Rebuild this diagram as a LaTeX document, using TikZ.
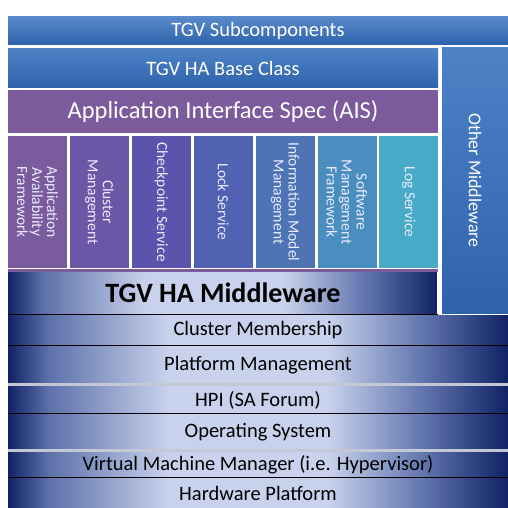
\documentclass[tikz,border=0pt]{standalone}
\usepackage{fontspec}
\setmainfont{Carlito}
\definecolor{tgvblue}{RGB}{58,116,192}
\definecolor{tgvbluedk}{RGB}{46,98,172}
\definecolor{aispurple}{RGB}{124,91,156}
\definecolor{svA}{RGB}{122,92,158}
\definecolor{svB}{RGB}{106,88,166}
\definecolor{svC}{RGB}{92,84,172}
\definecolor{svD}{RGB}{81,98,179}
\definecolor{svE}{RGB}{78,116,182}
\definecolor{svF}{RGB}{74,142,191}
\definecolor{svG}{RGB}{71,170,198}
\definecolor{navy}{RGB}{16,34,100}
\definecolor{midblue}{RGB}{92,112,170}
\definecolor{pale}{RGB}{200,210,236}
\definecolor{sepgray}{RGB}{196,200,212}
\usetikzlibrary{calc}
\pgfdeclarehorizontalshading{layershade}{100bp}{color(0bp)=(navy); color(25bp)=(navy);
  color(29bp)=(midblue); color(41bp)=(pale); color(57bp)=(pale); color(67bp)=(midblue);
  color(75bp)=(navy); color(100bp)=(navy)}

\begin{document}
\begin{tikzpicture}[x=1pt,y=-1pt]
	\tikzstyle{blk}=[inner sep=0pt,text=white,font=\fontsize{20.5}{22}\selectfont];
	\tikzstyle{svc}=[blk,rotate=-90,align=center,minimum width=132pt,minimum height=59pt,
	                 text=white!92!blue,font=\fontsize{15.5}{15}\selectfont];
	\tikzstyle{lay}=[inner sep=0pt,shading=layershade,font=\fontsize{20.5}{22}\selectfont];
	\tikzstyle{rule}=[line width=0.6pt,black];
	\tikzstyle{gap}=[line width=2.6pt,sepgray];
	\useasboundingbox (0,0) rectangle (508,508);
	% top blocks
	\node[blk,top color=tgvblue!85!white,bottom color=tgvbluedk,minimum width=500pt,minimum height=28pt] (sub) at (258,31) {TGV Subcomponents};
	\node[blk,top color=tgvblue!90!white,bottom color=tgvbluedk,minimum width=430pt,minimum height=39pt] (base) at (223,68) {TGV HA Base Class};
	\node[blk,top color=tgvblue!90!white,bottom color=tgvbluedk,rotate=-90,minimum width=265pt,minimum height=66pt,
	      font=\fontsize{18}{20}\selectfont] (other) at (475,180.5) {Other Middleware};
	\node[blk,fill=aispurple,minimum width=430pt,minimum height=43pt,font=\fontsize{24.5}{26}\selectfont] (ais) at (223,111.5) {Application Interface Spec (AIS)};
	% AIS services
	\node[svc,fill=svA] (aaf)  at (37.5,202)  {Application\\Availability\\Framework};
	\node[svc,fill=svB] (clm)  at (99.4,202)  {Cluster\\Management};
	\node[svc,fill=svC] (ckpt) at (161.3,202) {Checkpoint Service};
	\node[svc,fill=svD] (lck)  at (223.2,202) {Lock Service};
	\node[svc,fill=svE] (imm)  at (285.1,202) {Information Model\\Management};
	\node[svc,fill=svF] (smf)  at (347,202)   {Software\\Management\\Framework};
	\node[svc,fill=svG] (log)  at (408.9,202) {Log Service};
	\fill[aispurple] (8,269) rectangle (438,272);
	% middleware and platform layers
	\node[lay,minimum width=430pt,minimum height=42pt,font=\fontsize{28}{30}\selectfont\bfseries] (ham) at (223,293) {TGV HA Middleware};
	\node[lay,minimum width=500pt,minimum height=30pt] (cm)  at (258,330)   {Cluster Membership};
	\node[lay,minimum width=500pt,minimum height=38pt] (pm)  at (258,365)   {Platform Management};
	\node[lay,minimum width=500pt,minimum height=27pt] (hpi) at (258,400)   {HPI (SA Forum)};
	\node[lay,minimum width=500pt,minimum height=37pt] (os)  at (258,432)   {Operating System};
	\node[lay,minimum width=500pt,minimum height=25pt] (vmm) at (258,465)   {Virtual Machine Manager (i.e. Hypervisor)};
	\node[lay,minimum width=500pt,minimum height=30pt] (hw)  at (258,493)   {Hardware Platform};
	\draw[white,line width=1.5pt] (ham.north east) -- (ham.south east);
	\draw[rule] (ham.south west) -- (ham.south east);
	\draw[rule] (cm.south west) -- (cm.south east);
	\draw[rule] (hpi.south west) -- (hpi.south east);
	\draw[rule] (vmm.south west) -- (vmm.south east);
	\draw[gap] (pm.south west) -- (pm.south east);
	\draw[gap] (os.south west) -- (os.south east);
\end{tikzpicture}
\end{document}
